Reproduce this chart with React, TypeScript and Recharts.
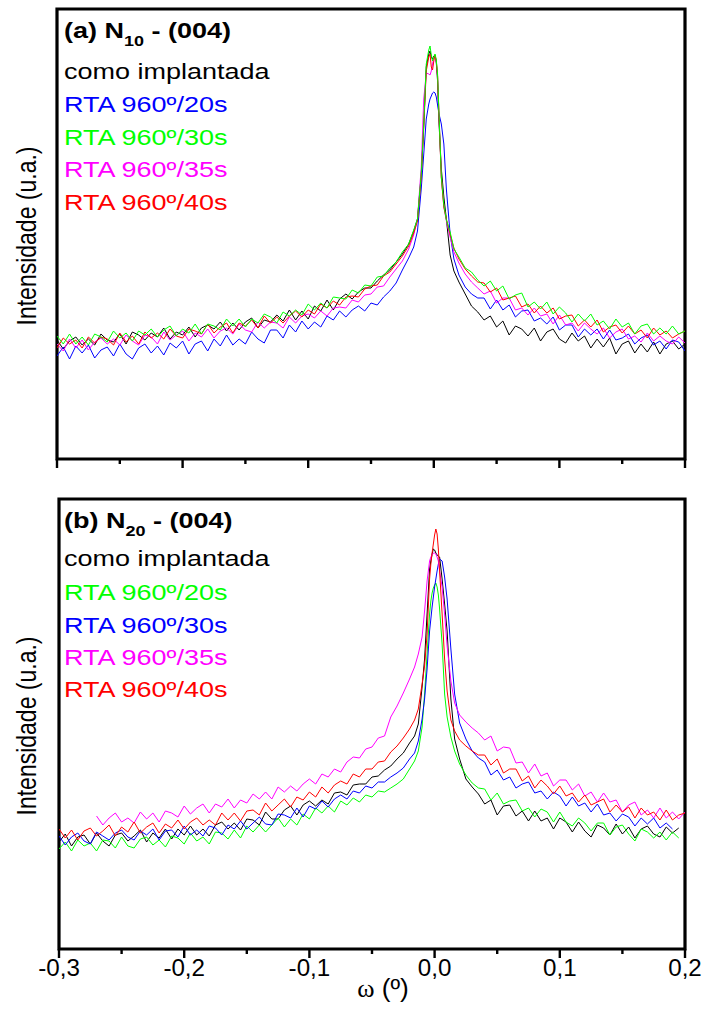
import { LineChart, Line, XAxis, YAxis, ReferenceArea } from "recharts";

// omega grid (degrees), shared by both panels
const omega = [
  -0.3, -0.295, -0.29, -0.285, -0.28, -0.275, -0.27, -0.265, -0.26, -0.255,
  -0.25, -0.245, -0.24, -0.235, -0.23, -0.225, -0.22, -0.215, -0.21, -0.205,
  -0.2, -0.195, -0.19, -0.185, -0.18, -0.175, -0.17, -0.165, -0.16, -0.155,
  -0.15, -0.145, -0.14, -0.135, -0.13, -0.125, -0.12, -0.115, -0.11, -0.105,
  -0.1, -0.095, -0.09, -0.085, -0.08, -0.075, -0.07, -0.065, -0.06, -0.055,
  -0.05, -0.045, -0.04,
  -0.035, -0.03, -0.025, -0.02, -0.016, -0.013, -0.01, -0.008, -0.006, -0.004,
  -0.003, -0.002, -0.001, 0, 0.001, 0.002, 0.003, 0.004, 0.006, 0.008,
  0.01, 0.013, 0.016, 0.02, 0.025, 0.03, 0.035,
  0.04, 0.045, 0.05, 0.055, 0.06, 0.065, 0.07, 0.075, 0.08, 0.085,
  0.09, 0.095, 0.1, 0.105, 0.11, 0.115, 0.12, 0.125, 0.13, 0.135,
  0.14, 0.145, 0.15, 0.155, 0.16, 0.165, 0.17, 0.175, 0.18, 0.185,
  0.19, 0.195, 0.2,
];

const xTicks = [-0.3, -0.25, -0.2, -0.15, -0.1, -0.05, 0, 0.05, 0.1, 0.15, 0.2];

// (a) N10 - (004)
const blackA = [
  119, 110, 118, 122, 114, 120, 114, 125, 119, 117, 125, 115, 127, 124, 119, 126, 122, 131, 120, 127,
  124, 132, 122, 131, 134, 130, 137, 128, 136, 129, 137, 141, 131, 139, 137, 144, 138, 149, 139, 148,
  140, 153, 148, 159, 149, 160, 165, 160, 167, 171, 171, 178, 184,
  189, 197, 205, 215, 228, 240, 284, 334, 392, 405, 408, 402, 400, 403, 404, 396, 378, 340, 290, 262,
  240, 204, 188, 177, 165, 153, 147,
  139, 143, 132, 138, 124, 133, 130, 123, 131, 118, 127, 130, 120, 116, 126, 118, 123, 111, 120, 112,
  121, 105, 115, 118, 106, 115, 107, 117, 105, 115, 118, 110, 115,
];
const blueA = [
  103, 112, 100, 113, 106, 114, 101, 109, 112, 103, 115, 105, 100, 111, 115, 106, 113, 104, 116, 111,
  118, 105, 115, 118, 108, 120, 113, 124, 114, 120, 115, 127, 120, 116, 129, 129, 121, 134, 127, 138,
  130, 137, 132, 143, 139, 148, 142, 149, 153, 148, 156, 154, 162,
  168, 176, 189, 201, 212, 228, 270, 305, 340, 355, 360, 363, 366, 367, 366, 362, 354, 346, 335, 315,
  270, 225, 200, 184, 172, 165, 161,
  161, 150, 159, 149, 154, 142, 148, 149, 138, 141, 135, 142, 129, 134, 134, 122, 130, 124, 130, 120,
  129, 119, 121, 125, 115, 121, 124, 114, 118, 110, 119, 117, 108,
];
const greenA = [
  123, 115, 125, 115, 122, 114, 125, 122, 117, 128, 121, 126, 118, 128, 124, 130, 122, 129, 133, 123,
  130, 126, 135, 125, 135, 133, 129, 140, 133, 140, 132, 140, 136, 145, 142, 136, 147, 143, 149, 144,
  155, 149, 156, 151, 162, 161, 160, 169, 166, 174, 173, 182, 183,
  191, 197, 207, 215, 229, 240, 285, 335, 395, 409, 413, 404, 398, 402, 405, 399, 385, 350, 282, 254,
  239, 227, 210, 202, 191, 187, 179,
  173, 178, 168, 173, 160, 164, 166, 152, 157, 150, 157, 145, 152, 146, 137, 145, 138, 145, 134, 138,
  130, 140, 132, 136, 125, 133, 135, 125, 131, 125, 133, 125, 128,
];
const magentaA = [
  115, 108, 120, 111, 119, 109, 117, 121, 115, 120, 114, 124, 118, 114, 124, 122, 115, 127, 119, 124,
  128, 118, 126, 122, 130, 121, 128, 131, 125, 135, 129, 127, 137, 131, 137, 136, 131, 142, 136, 143,
  145, 141, 148, 143, 151, 152, 151, 159, 157, 164, 165, 172, 173,
  182, 190, 198, 210, 224, 240, 292, 360, 386, 385, 384, 388, 395, 402, 403, 397, 383, 348, 282, 252,
  238, 222, 207, 196, 185, 177, 171,
  165, 168, 156, 161, 161, 149, 151, 144, 151, 143, 145, 135, 144, 134, 136, 128, 136, 130, 125, 131,
  121, 127, 130, 120, 123, 117, 126, 118, 123, 118, 115, 122, 116,
];
const redA = [
  111, 121, 115, 119, 111, 122, 116, 122, 120, 114, 126, 117, 123, 115, 127, 121, 126, 120, 130, 123,
  121, 130, 128, 125, 135, 126, 132, 136, 126, 136, 133, 139, 131, 143, 136, 142, 136, 143, 148, 142,
  149, 145, 155, 151, 158, 154, 162, 163, 162, 170, 173, 174, 183,
  187, 195, 203, 213, 226, 238, 282, 332, 388, 402, 405, 392, 389, 398, 404, 398, 383, 348, 281, 252,
  240, 225, 211, 200, 190, 183, 177,
  176, 167, 171, 159, 161, 163, 152, 155, 146, 153, 146, 151, 140, 143, 144, 133, 139, 132, 139, 127,
  132, 134, 126, 133, 125, 129, 121, 131, 124, 128, 121, 125, 128,
];

// (b) N20 - (004)
const blackB = [
  107, 115, 103, 112, 114, 105, 116, 108, 103, 114, 116, 108, 113, 119, 107, 116, 111, 120, 110, 120,
  114, 123, 114, 120, 113, 124, 127, 120, 126, 119, 130, 129, 124, 137, 130, 130, 139, 143, 134, 144,
  148, 143, 149, 145, 156, 157, 154, 164, 165, 165, 172, 173, 179,
  183, 190, 196, 206, 213, 225, 262, 290, 335, 380, 388, 395, 400, 399, 396, 394, 393, 392, 370, 345,
  318, 250, 210, 190, 170, 162, 155,
  145, 149, 134, 143, 144, 133, 138, 128, 138, 128, 131, 120, 131, 127, 117, 127, 118, 112, 124, 121,
  114, 125, 115, 122, 111, 120, 123, 115, 112, 122, 116, 121, null,
];
const greenB = [
  100, 107, 98, 109, 103, 106, 98, 109, 108, 101, 112, 103, 101, 110, 112, 104, 109, 102, 113, 111,
  105, 116, 108, 112, 105, 117, 116, 110, 119, 111, 123, 117, 124, 117, 124, 131, 122, 130, 124, 135,
  130, 141, 136, 143, 137, 148, 144, 151, 147, 154, 152, 158, 157,
  161, 165, 170, 180, 188, 198, 222, 255, 295, 335, 348, 356, 361, 364, 366, 362, 354, 340, 305, 255,
  232, 212, 198, 185, 174, 166, 161,
  160, 149, 156, 145, 148, 149, 138, 141, 132, 140, 137, 127, 137, 127, 123, 131, 126, 118, 126, 126,
  114, 122, 124, 115, 108, 120, 117, 111, 117, 109, 117, 111, null,
];
const blueB = [
  113, 104, 112, 116, 108, 105, 117, 113, 109, 116, 119, 112, 109, 118, 114, 120, 109, 118, 119, 112,
  123, 114, 119, 113, 123, 121, 114, 124, 120, 128, 120, 126, 132, 125, 124, 135, 134, 131, 141, 132,
  143, 140, 148, 142, 150, 154, 150, 158, 156, 163, 161, 167, 167,
  172, 176, 181, 190, 196, 208, 230, 250, 280, 318, 330, 342, 352, 362, 370, 378, 385, 390, 388, 372,
  350, 300, 255, 226, 210, 198, 191,
  187, 174, 179, 169, 172, 161, 165, 167, 156, 158, 150, 157, 153, 143, 152, 143, 146, 137, 145, 134,
  136, 128, 135, 132, 123, 131, 125, 131, 121, 126, 120, null, null,
];
const magentaB = [
  null, null, null, null, null, null, 133, 124, 131, 136, 127, 131, 126, 137, 130, 136, 127, 138, 136, 132,
  143, 135, 141, 145, 136, 145, 142, 150, 141, 149, 146, 155, 150, 157, 150, 162, 157, 163, 158, 165,
  170, 165, 175, 172, 180, 177, 187, 192, 191, 200, 202, 211, 213,
  232, 243, 256, 270, 282, 295, 312, 338, 368, 388, 392, 394, 396, 396, 395, 392, 388, 378, 362, 335,
  303, 268, 246, 234, 227, 221, 216,
  209, 213, 198, 202, 201, 186, 187, 176, 185, 173, 176, 163, 169, 169, 159, 165, 153, 157, 147, 156,
  147, 149, 137, 144, 147, 134, 139, 131, 141, 131, 137, 130, 137,
];
const redB = [
  120, 111, 119, 109, 118, 121, 113, 118, 124, 113, 122, 117, 127, 116, 122, 126, 116, 125, 121, 129,
  120, 127, 131, 124, 129, 124, 136, 129, 136, 128, 138, 139, 134, 146, 138, 144, 150, 142, 152, 149,
  157, 152, 162, 156, 164, 168, 165, 175, 172, 180, 180, 187, 188,
  197, 203, 211, 220, 229, 240, 265, 283, 315, 370, 385, 396, 405, 414, 420, 415, 400, 378, 335, 290,
  258, 229, 218, 209, 203, 198, 194,
  194, 184, 190, 176, 180, 180, 168, 173, 161, 169, 163, 155, 163, 153, 156, 147, 154, 144, 147, 150,
  137, 144, 137, 142, 131, 141, 134, 137, 129, 139, 129, 134, 136,
];

const rowsA = omega.map((w, i) => ({
  w, black: blackA[i], blue: blueA[i], green: greenA[i], magenta: magentaA[i], red: redA[i],
}));
const rowsB = omega.map((w, i) => ({
  w, black: blackB[i], blue: blueB[i], green: greenB[i], magenta: magentaB[i], red: redB[i],
}));

const FONT = "Arial, 'Liberation Sans', Helvetica, sans-serif";
const SX = 1.2; // the original lettering is a bit wide

const fmt = (v: number) => (Math.round(v * 10) / 10).toFixed(1).replace(".", ",");

function TickMark(props: any) {
  const { x, y, payload, showLabel } = props;
  const v = payload.value;
  const major = Math.abs(v * 10 - Math.round(v * 10)) < 1e-6;
  return (
    <g>
      <line x1={x} x2={x} y1={y} y2={y + (major ? 9 : 5)} stroke="#000" strokeWidth={2.4} />
      {showLabel && major && (
        <text
          transform={`translate(${x},${y + 27}) scale(1.05,1)`}
          textAnchor="middle"
          fontFamily={FONT}
          fontSize={23}
          fill="#000"
        >
          {fmt(v)}
        </text>
      )}
    </g>
  );
}

function Lbl({ x, y, color, children, bold }: any) {
  return (
    <text
      transform={`translate(${x},${y}) scale(${SX},1)`}
      fontFamily={FONT}
      fontSize={22.5}
      fontWeight={bold ? "bold" : "normal"}
      fill={color}
    >
      {children}
    </text>
  );
}

const lineProps = { type: "linear" as const, dot: false, strokeWidth: 1, isAnimationActive: false };

export default function App() {
  return (
    <div style={{ position: "absolute", left: 0, top: 0, width: 706, height: 1021, background: "#fff" }}>
      <div style={{ position: "absolute", left: 0, top: 0 }}>
        <LineChart width={706} height={480} data={rowsA} margin={{ top: 9, right: 21, bottom: 0, left: 57 }}>
          <XAxis
            dataKey="w" type="number" domain={[-0.3, 0.2]} ticks={xTicks} allowDataOverflow
            height={21} tickSize={0} tickMargin={0} axisLine={false} tickLine={false}
            tick={(p: any) => <TickMark {...p} showLabel={false} />}
          />
          <YAxis type="number" domain={[0, 450]} hide />
          <Line dataKey="black" stroke="#000000" {...lineProps} />
          <Line dataKey="blue" stroke="#0000ff" {...lineProps} />
          <Line dataKey="magenta" stroke="#ff00ff" {...lineProps} />
          <Line dataKey="red" stroke="#ff0000" {...lineProps} />
          <Line dataKey="green" stroke="#00ff00" {...lineProps} />
          <ReferenceArea x1={-0.3} x2={0.2} y1={0} y2={450} ifOverflow="visible" fill="none" stroke="#000" strokeWidth={3.2} />
        </LineChart>
      </div>
      <div style={{ position: "absolute", left: 0, top: 490 }}>
        <LineChart width={706} height={531} data={rowsB} margin={{ top: 9, right: 21, bottom: 0, left: 59 }}>
          <XAxis
            dataKey="w" type="number" domain={[-0.3, 0.2]} ticks={xTicks} allowDataOverflow
            height={72} tickSize={0} tickMargin={0} axisLine={false} tickLine={false}
            tick={(p: any) => <TickMark {...p} showLabel />}
          />
          <YAxis type="number" domain={[0, 450]} hide />
          <Line dataKey="black" stroke="#000000" {...lineProps} />
          <Line dataKey="green" stroke="#00ff00" {...lineProps} />
          <Line dataKey="blue" stroke="#0000ff" {...lineProps} />
          <Line dataKey="magenta" stroke="#ff00ff" {...lineProps} />
          <Line dataKey="red" stroke="#ff0000" {...lineProps} />
          <ReferenceArea x1={-0.3} x2={0.2} y1={0} y2={450} ifOverflow="visible" fill="none" stroke="#000" strokeWidth={3.2} />
        </LineChart>
      </div>
      <svg width={706} height={1021} style={{ position: "absolute", left: 0, top: 0, pointerEvents: "none" }}>
        <Lbl x={64} y={38} color="#000" bold>
          (a) N<tspan fontSize={15} dy={8}>10</tspan><tspan dy={-8}> - (004)</tspan>
        </Lbl>
        <Lbl x={64} y={79} color="#000">como implantada</Lbl>
        <Lbl x={64} y={112} color="#0000ff">RTA 960º/20s</Lbl>
        <Lbl x={64} y={145} color="#00ff00">RTA 960º/30s</Lbl>
        <Lbl x={64} y={177} color="#ff00ff">RTA 960º/35s</Lbl>
        <Lbl x={64} y={210} color="#ff0000">RTA 960º/40s</Lbl>

        <Lbl x={64} y={528} color="#000" bold>
          (b) N<tspan fontSize={15} dy={8}>20</tspan><tspan dy={-8}> - (004)</tspan>
        </Lbl>
        <Lbl x={64} y={566} color="#000">como implantada</Lbl>
        <Lbl x={64} y={600} color="#00ff00">RTA 960º/20s</Lbl>
        <Lbl x={64} y={633} color="#0000ff">RTA 960º/30s</Lbl>
        <Lbl x={64} y={665} color="#ff00ff">RTA 960º/35s</Lbl>
        <Lbl x={64} y={697} color="#ff0000">RTA 960º/40s</Lbl>

        <text transform={`translate(36,236) scale(${SX},1) rotate(-90)`} textAnchor="middle" fontFamily={FONT} fontSize={23} fill="#000">
          Intensidade (u.a.)
        </text>
        <text transform={`translate(36,726) scale(${SX},1) rotate(-90)`} textAnchor="middle" fontFamily={FONT} fontSize={23} fill="#000">
          Intensidade (u.a.)
        </text>

        <text transform={`translate(383,997) scale(1.05,1)`} textAnchor="middle" fontFamily={FONT} fontSize={25} fill="#000">
          <tspan fontFamily="'Liberation Serif', 'DejaVu Serif', serif">ω</tspan> (º)
        </text>
      </svg>
    </div>
  );
}
